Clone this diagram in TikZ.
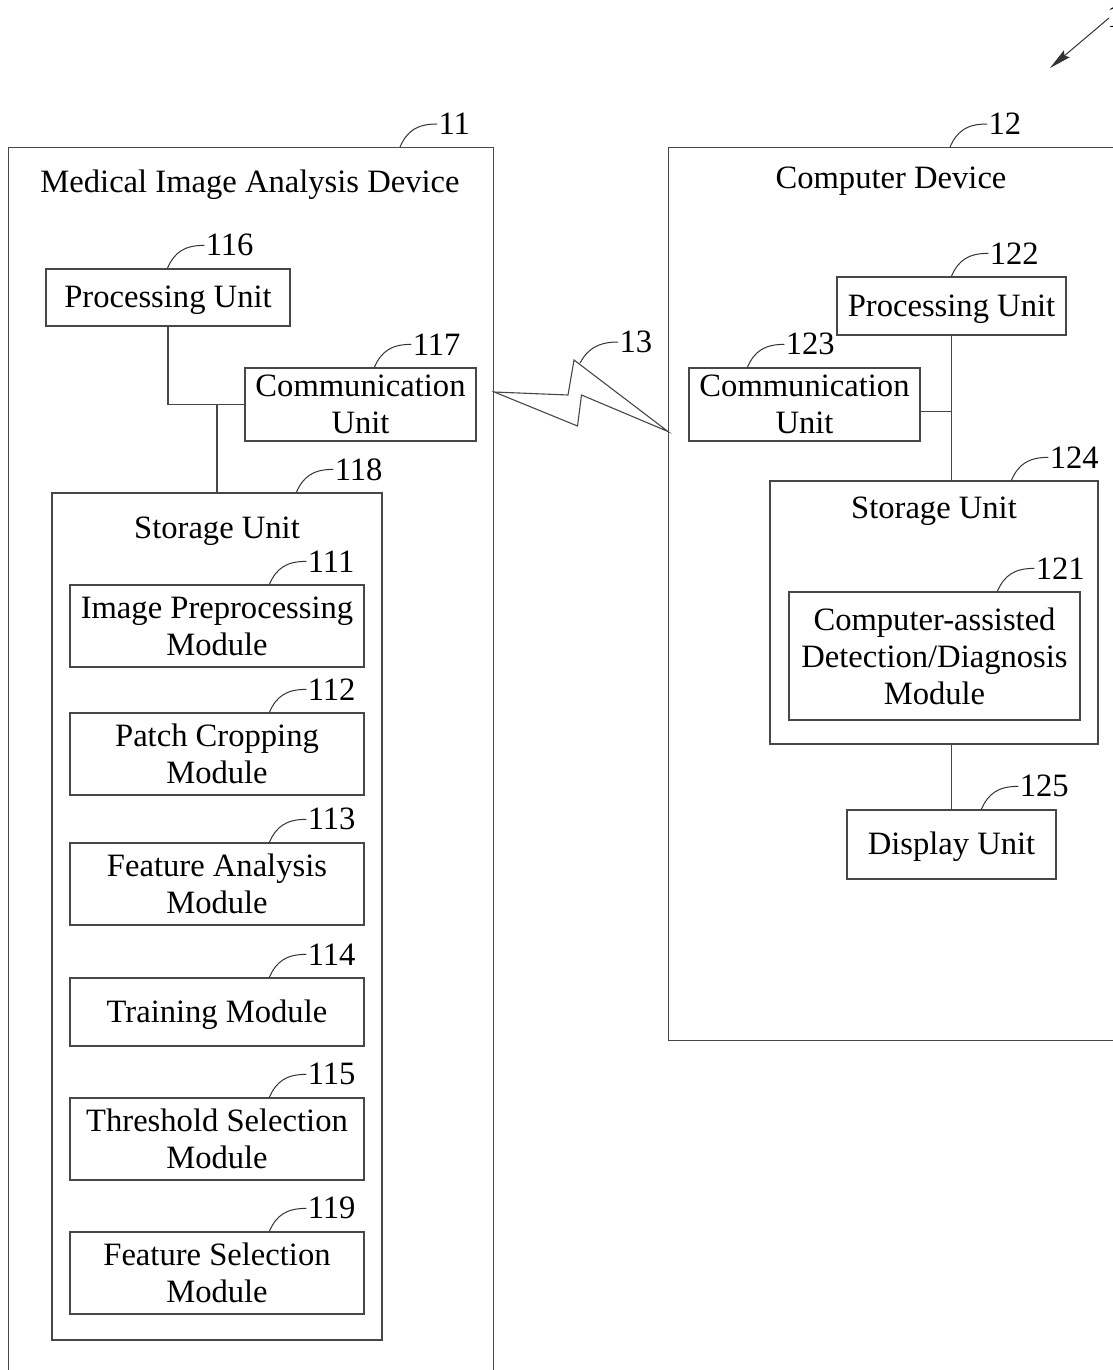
\documentclass[tikz,border=0pt]{standalone}
\usepackage{fontspec}
\setmainfont{Liberation Serif}
\usetikzlibrary{calc,arrows.meta}

\tikzset{
  ln/.style={line width=1.3pt, draw=black!72},
  box/.style={ln, rectangle, inner sep=0pt, align=center,
    font=\fontsize{32.6}{37}\selectfont,
    execute at begin node={\vrule width 0pt height 28pt depth 0pt}},
  ttl/.style={inner sep=0pt, font=\fontsize{32.6}{37}\selectfont},
  lbl/.style={inner sep=1pt, anchor=west, font=\fontsize{32.6}{37}\selectfont},
  leadline/.style={line width=1pt, draw=black!80},
}

% reference numeral with its curved leader, rising from a box's top edge
\newcommand\callout[3]{%
  \draw[leadline] ($(#1.north west)+(#2,0)$) coordinate (lstart)
    .. controls ($(lstart)+(7,-16)$) and ($(lstart)+(17,-23)$)
    .. ($(lstart)+(37,-23)$) node[lbl] {#3};}

\begin{document}
\begin{tikzpicture}[x=1pt,y=-1pt]
\useasboundingbox (0,0) rectangle (1112,1370);

% ---------------- Medical image analysis device ----------------
\node[box, anchor=north west, minimum width=485, minimum height=1280] (dev1) at (8,147) {};
\node[ttl] (t1) at (250,185) {Medical Image Analysis Device};
\callout{dev1}{392}{11}

\node[box, minimum width=244, minimum height=57] (pu1) at (168,297.5) {Processing Unit};
\callout{pu1}{122}{116}
\node[box, minimum width=231, minimum height=73] (cu1) at (360.5,404.5) {Communication\\Unit};
\callout{cu1}{130}{117}
\node[box, minimum width=330, minimum height=847] (st1) at (217,916.5) {};
\node[ttl] (st1t) at (217,531) {Storage Unit};
\callout{st1}{245}{118}

\draw[ln] (pu1.south) |- (cu1.west);
\draw[ln] (st1.north) -- (st1.north |- cu1.west);

\node[box, minimum width=294, minimum height=82] (m111) at (217,626) {Image Preprocessing\\Module};
\node[box, minimum width=294, minimum height=82] (m112) at (217,754) {Patch Cropping\\Module};
\node[box, minimum width=294, minimum height=82] (m113) at (217,884) {Feature Analysis\\Module};
\node[box, minimum width=294, minimum height=68] (m114) at (217,1012) {Training Module};
\node[box, minimum width=294, minimum height=82] (m115) at (217,1139) {Threshold Selection\\Module};
\node[box, minimum width=294, minimum height=82] (m119) at (217,1273) {Feature Selection\\Module};
\callout{m111}{200}{111}
\callout{m112}{200}{112}
\callout{m113}{200}{113}
\callout{m114}{200}{114}
\callout{m115}{200}{115}
\callout{m119}{200}{119}

% ---------------- Computer device ----------------
\node[box, anchor=north west, minimum width=500, minimum height=893] (dev2) at (668,147) {};
\node[ttl] (t2) at (891,181) {Computer Device};
\callout{dev2}{282}{12}

\node[box, minimum width=229, minimum height=58] (pu2) at (951.5,306) {Processing Unit};
\callout{pu2}{115}{122}
\node[box, minimum width=231, minimum height=73] (cu2) at (804.5,404.5) {Communication\\Unit};
\callout{cu2}{59}{123}
\node[box, minimum width=328, minimum height=263] (st2) at (934,612.5) {};
\node[ttl] (st2t) at (934,511) {Storage Unit};
\callout{st2}{242}{124}
\node[box, minimum width=291, minimum height=128] (m121) at (934.5,656) {Computer-assisted\\Detection/Diagnosis\\Module};
\callout{m121}{209}{121}
\node[box, minimum width=209, minimum height=69] (du) at (951.5,844.5) {Display Unit};
\callout{du}{135}{125}

\coordinate (j2) at ($(pu2.south)+(0,76)$);
\draw[ln] (pu2.south) -- (pu2.south |- st2.north);
\draw[ln] (cu2.east |- j2) -- (j2);
\draw[ln] (du.north |- st2.south) -- (du.north);

% ---------------- wireless link ----------------
\coordinate (w1) at (dev1.east |- 0,392);
\coordinate (w2) at (dev2.west |- 0,431.5);
\draw[ln, line width=1.1pt, line join=miter]
  (w1) -- (568,395) -- (574,360) -- (w2) -- (581.5,395) -- (577.5,426) -- cycle;
\coordinate (b13) at (580,363);
\draw[leadline] (b13) .. controls (587,350) and (597,342) .. (618,342)
  node[lbl] {13};

% ---------------- system reference ----------------
\node[lbl, anchor=base west] (sys) at (1106,28) {1};
\coordinate (arrtip) at (1050,68);
\draw[leadline, -{Stealth[length=22pt, width=9pt, inset=3pt]}] (1109,18) -- (arrtip);
\end{tikzpicture}
\end{document}
